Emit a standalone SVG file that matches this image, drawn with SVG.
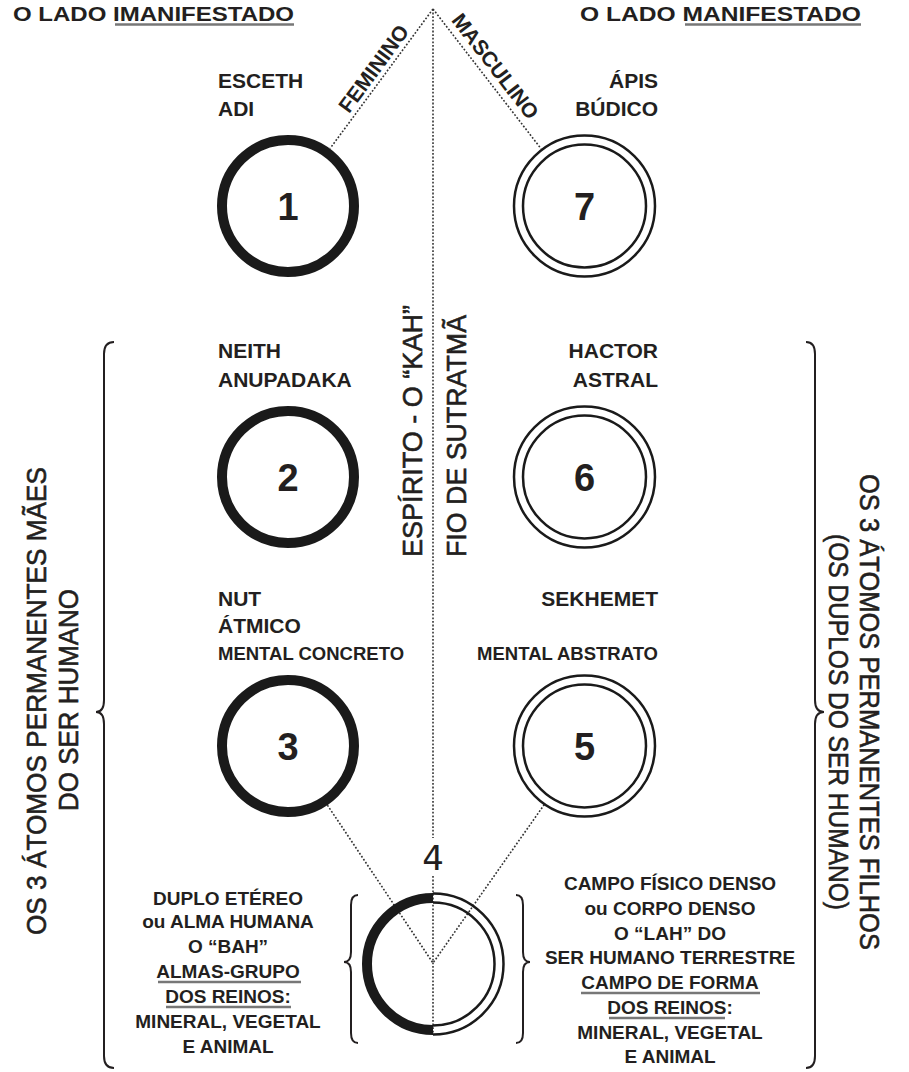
<svg xmlns="http://www.w3.org/2000/svg" width="909" height="1072" viewBox="0 0 909 1072">
<style>
.lbl{font-family:"Liberation Sans",Arial,sans-serif;font-weight:bold;font-size:21px;fill:#231f20}
.r{text-anchor:end}
.sm{font-size:18.5px}
.bt{font-family:"Liberation Sans",Arial,sans-serif;font-weight:bold;font-size:19px;fill:#231f20;text-anchor:middle}
.big{font-family:"Liberation Sans",Arial,sans-serif;font-size:28px;fill:#231f20;stroke:#231f20;stroke-width:0.6}
.head{font-family:"Liberation Sans",Arial,sans-serif;font-weight:bold;font-size:21px;fill:#231f20}
.num{font-family:"Liberation Sans",Arial,sans-serif;font-weight:bold;font-size:38px;fill:#231f20;text-anchor:middle}
.dot{fill:none;stroke:#333;stroke-width:1.6;stroke-dasharray:1.8 1.8}
.thick{fill:none;stroke:#1a1a1a;stroke-width:10}
.thin{fill:none;stroke:#1a1a1a;stroke-width:2.5}
.brace{fill:none;stroke:#231f20;stroke-width:2}
.ul{stroke:#777;stroke-width:2.4}
</style>

<g id="headings">
  <text class="head" x="13" y="20.5" textLength="281" lengthAdjust="spacingAndGlyphs">O LADO IMANIFESTADO</text>
  <line class="ul" x1="115" y1="24.5" x2="294" y2="24.5"/>
  <text class="head" x="580" y="20.5" textLength="281" lengthAdjust="spacingAndGlyphs">O LADO MANIFESTADO</text>
  <line class="ul" x1="685" y1="24.5" x2="861" y2="24.5"/>
</g>

<g id="connectors">
  <line class="dot" x1="433" y1="9" x2="330.2" y2="148.3"/>
  <line class="dot" x1="433" y1="9" x2="541.1" y2="148.8"/>
  <line class="dot" x1="433" y1="9" x2="433" y2="838"/>
  <line class="dot" x1="433" y1="876" x2="433" y2="1035"/>
  <line class="dot" x1="327.4" y1="805.1" x2="433" y2="963"/>
  <line class="dot" x1="544.3" y1="804.5" x2="433" y2="963"/>
  <text class="lbl" font-size="20.5" transform="translate(383.6,76) rotate(-53.6)" x="0" y="-5" text-anchor="middle">FEMININO</text>
  <text class="lbl" font-size="20.5" transform="translate(484,75) rotate(52.3)" x="0" y="-7" text-anchor="middle">MASCULINO</text>
  <text class="big" font-size="29" stroke-width="0.5" transform="translate(422,557) rotate(-90)" textLength="252" lengthAdjust="spacingAndGlyphs">ESPÍRITO - O “KAH”</text>
  <text class="big" font-size="29" stroke-width="0.5" transform="translate(466,557) rotate(-90)" textLength="242" lengthAdjust="spacingAndGlyphs">FIO DE SUTRATMÃ</text>
</g>

<g id="atom1">
  <circle class="thick" cx="288" cy="206" r="66"/>
  <text class="num" x="288" y="220">1</text>
  <text class="lbl" x="218" y="88">ESCETH</text>
  <text class="lbl" x="218" y="116">ADI</text>
</g>
<g id="atom7">
  <circle class="thin" cx="584.5" cy="206" r="70.5"/>
  <circle class="thin" cx="584.5" cy="206" r="61.5"/>
  <text class="num" x="584.5" y="220">7</text>
  <text class="lbl r" x="658" y="88">ÁPIS</text>
  <text class="lbl r" x="658" y="116">BÚDICO</text>
</g>
<g id="atom2">
  <circle class="thick" cx="288" cy="477" r="66"/>
  <text class="num" x="288" y="491">2</text>
  <text class="lbl" x="218" y="358">NEITH</text>
  <text class="lbl" x="218" y="387">ANUPADAKA</text>
</g>
<g id="atom6">
  <circle class="thin" cx="584.5" cy="477" r="70.5"/>
  <circle class="thin" cx="584.5" cy="477" r="61.5"/>
  <text class="num" x="584.5" y="491">6</text>
  <text class="lbl r" x="658" y="358">HACTOR</text>
  <text class="lbl r" x="658" y="387">ASTRAL</text>
</g>
<g id="atom3">
  <circle class="thick" cx="288" cy="746" r="66"/>
  <text class="num" x="288" y="760">3</text>
  <text class="lbl" x="218" y="606">NUT</text>
  <text class="lbl" x="218" y="633">ÁTMICO</text>
  <text class="lbl sm" x="218" y="660">MENTAL CONCRETO</text>
</g>
<g id="atom5">
  <circle class="thin" cx="584.5" cy="746" r="70.5"/>
  <circle class="thin" cx="584.5" cy="746" r="61.5"/>
  <text class="num" x="584.5" y="760">5</text>
  <text class="lbl r" x="658" y="606">SEKHEMET</text>
  <text class="lbl sm r" x="658" y="660">MENTAL ABSTRATO</text>
</g>
<g id="atom4">
  <path class="thick" d="M433 898 A66 66 0 0 0 433 1030"/>
  <path class="thin" d="M433 893.5 A70.5 70.5 0 0 1 433 1034.5"/>
  <path class="thin" d="M433 902.5 A61.5 61.5 0 0 1 433 1025.5"/>
  <text x="433" y="870" font-family="DejaVu Sans, sans-serif" font-size="34" fill="#231f20" text-anchor="middle">4</text>
</g>

<g id="left-text">
  <path class="brace" d="M358 895 Q351 895 351 905 L351 952 Q351 962 344 962 Q351 962 351 972 L351 1033 Q351 1043 358 1043"/>
  <text class="bt" x="228" y="905">DUPLO ETÉREO</text>
  <text class="bt" x="228" y="928">ou ALMA HUMANA</text>
  <text class="bt" x="228" y="953">O “BAH”</text>
  <text class="bt" x="228" y="978">ALMAS-GRUPO</text>
  <line class="ul" x1="158" y1="982" x2="301" y2="982"/>
  <text class="bt" x="228" y="1003">DOS REINOS:</text>
  <line class="ul" x1="166" y1="1007" x2="291" y2="1007"/>
  <text class="bt" x="228" y="1028">MINERAL, VEGETAL</text>
  <text class="bt" x="228" y="1053">E ANIMAL</text>
</g>

<g id="right-text">
  <path class="brace" d="M516 895 Q523 895 523 905 L523 952 Q523 962 530 962 Q523 962 523 972 L523 1033 Q523 1043 516 1043"/>
  <text class="bt" x="670" y="890">CAMPO FÍSICO DENSO</text>
  <text class="bt" x="670" y="915">ou CORPO DENSO</text>
  <text class="bt" x="670" y="940">O “LAH” DO</text>
  <text class="bt" x="670" y="964">SER HUMANO TERRESTRE</text>
  <text class="bt" x="670" y="989">CAMPO DE FORMA</text>
  <line class="ul" x1="581" y1="993" x2="760" y2="993"/>
  <text class="bt" x="670" y="1014">DOS REINOS:</text>
  <line class="ul" x1="609" y1="1018" x2="725" y2="1018"/>
  <text class="bt" x="670" y="1039">MINERAL, VEGETAL</text>
  <text class="bt" x="670" y="1063">E ANIMAL</text>
</g>

<g id="mothers">
  <path class="brace" d="M114 342 Q104 342 104 354 L104 700 Q104 712 96 712 Q104 712 104 724 L104 1056 Q104 1068 114 1068"/>
  <text class="big" transform="translate(46,701) rotate(-90)" text-anchor="middle" textLength="468" lengthAdjust="spacingAndGlyphs">OS 3 ÁTOMOS PERMANENTES MÃES</text>
  <text class="big" transform="translate(78,700) rotate(-90)" text-anchor="middle" textLength="222" lengthAdjust="spacingAndGlyphs">DO SER HUMANO</text>
</g>

<g id="sons">
  <path class="brace" d="M806 342 Q815 342 815 354 L815 700 Q815 712 824 712 Q815 712 815 724 L815 1056 Q815 1068 806 1068"/>
  <text class="big" transform="translate(860,712) rotate(90)" text-anchor="middle" textLength="476" lengthAdjust="spacingAndGlyphs">OS 3 ÁTOMOS PERMANENTES FILHOS</text>
  <text class="big" transform="translate(829,722) rotate(90)" text-anchor="middle" textLength="376" lengthAdjust="spacingAndGlyphs">(OS DUPLOS DO SER HUMANO)</text>
</g>
</svg>
